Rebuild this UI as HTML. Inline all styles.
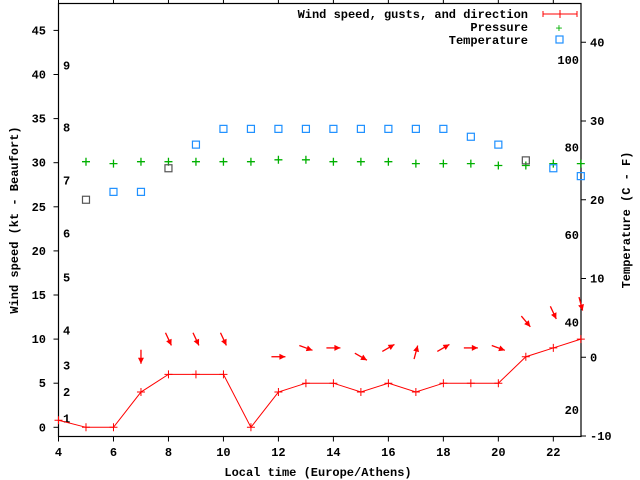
<!DOCTYPE html>
<html><head><meta charset="utf-8"><style>
html,body{margin:0;padding:0;background:#fff;width:640px;height:480px;overflow:hidden}
svg text{font-family:"Liberation Mono",monospace;font-size:12px;fill:#000;font-weight:bold}
</style></head><body>
<svg id="chart" width="640" height="480" xmlns="http://www.w3.org/2000/svg">
<g id="axes"></g>
<g id="marks"></g>
<text transform="translate(18,220) rotate(-90)" text-anchor="middle">Wind speed (kt - Beaufort)</text>
<text transform="translate(630,220) rotate(-90)" text-anchor="middle">Temperature (C - F)</text>
<text x="318" y="476" text-anchor="middle">Local time (Europe/Athens)</text>
<g>
<text x="528" y="18" text-anchor="end">Wind speed, gusts, and direction</text>
<line x1="543" y1="14" x2="577" y2="14" stroke="red" stroke-width="1"/><line x1="560" y1="10" x2="560" y2="18" stroke="red"/><line x1="543" y1="11" x2="543" y2="17" stroke="red"/><line x1="577" y1="11" x2="577" y2="17" stroke="red"/>
<text x="528" y="31" text-anchor="end">Pressure</text>
<text x="559" y="32" text-anchor="middle" style="fill:#00b000;font-weight:normal">+</text>
<text x="528" y="44" text-anchor="end">Temperature</text>
<rect x="556" y="36" width="7" height="7" fill="none" stroke="#1e90ff" stroke-width="1.2"/>
</g>
</svg>
<script>
const hours=[4,5,6,7,8,9,10,11,12,13,14,15,16,17,18,19,20,21,22,23];
const windKt=[0.8,0,0,4,6,6,6,0,4,5,5,4,5,4,5,5,5,8,9,10];
const arrowHours=[7,8,9,10,12,13,14,15,16,17,18,19,20,21,22,23];
const windFromDeg=[0,335,335,335,270,290,270,300,240,195,240,270,290,320,335,345];
const arrowKt=[8,10,10,10,8,9,9,8,9,8.5,9,9,9,12,13,14];
const tempHours=[5,6,7,8,9,10,11,12,13,14,15,16,17,18,19,20,21,22,23];
const tempC=[20,21,21,24,27,29,29,29,29,29,29,29,29,29,28,27,25,24,23];
const pressHours=[5,6,7,8,9,10,11,12,13,14,15,16,17,18,19,20,21,22,23];
const pressureHpa=[1013,1012,1013,1013,1013,1013,1013,1014,1014,1013,1013,1013,1012,1012,1012,1011,1011,1012,1012];
const xTicks=[4,6,8,10,12,14,16,18,20,22];
const yTicks=[0,5,10,15,20,25,30,35,40,45];
const y2Ticks=[-10,0,10,20,30,40];
const fTicks=[20,40,60,80,100];
const bftLabels=[1,2,3,4,5,6,7,8,9];
const bftKt=[1,4,7,11,17,22,28,34,41];

const NS="http://www.w3.org/2000/svg";
const L=58.5,R=581,T=3.5,B=436.5;
const X=h=>L+(h-4)*27.49;
const Y=k=>427.3-k*8.82;
const YT=c=>436-(c+10)*7.875;
const YP=p=>161.7-(p-1013)*1.9;
function mk(tag,attrs,parent){const e=document.createElementNS(NS,tag);for(const k in attrs)e.setAttribute(k,attrs[k]);parent.appendChild(e);return e;}
const ax=document.getElementById('axes'),mg=document.getElementById('marks');
let f=mk('rect',{x:L,y:T,width:R-L,height:B-T,fill:'none',stroke:'#000','stroke-width':1.2},ax);


xTicks.forEach(h=>{const x=X(h);
 mk('line',{x1:x,y1:B,x2:x,y2:B+5,stroke:'#000'},ax);
 mk('line',{x1:x,y1:T,x2:x,y2:T-5,stroke:'#000'},ax);
 const t=mk('text',{x:x,y:456,'text-anchor':'middle'},ax);t.textContent=h;
 
 });
yTicks.forEach(v=>{const y=Y(v);
 mk('line',{x1:L-5,y1:y,x2:L,y2:y,stroke:'#000'},ax);
 const t=mk('text',{x:46,y:y+4,'text-anchor':'end'},ax);t.textContent=v;
 
 });
y2Ticks.forEach(v=>{const y=YT(v);
 mk('line',{x1:R,y1:y,x2:R+5,y2:y,stroke:'#000'},ax);
 const t=mk('text',{x:590,y:y+4,'text-anchor':'start'},ax);t.textContent=v;
 
 });
fTicks.forEach(v=>{const y=YT((v-32)*5/9);
 const t=mk('text',{x:579,y:y+4,'text-anchor':'end'},ax);t.textContent=v;
 
 });
bftLabels.forEach((b,i)=>{const y=Y(bftKt[i]);
 const t=mk('text',{x:63,y:y+4,'text-anchor':'start'},ax);t.textContent=b;
 
 });
// wind line
let pts=hours.map((h,i)=>X(h)+','+Y(windKt[i])).join(' ');
let pl=mk('polyline',{points:pts,fill:'none',stroke:'red','stroke-width':1},mg);


hours.forEach((h,i)=>{const x=X(h),y=Y(windKt[i]);
 const g=mk('path',{d:`M${x-4},${y}H${x+4}M${x},${y-4}V${y+4}`,stroke:'red','stroke-width':1},mg);
 
 });
// arrows
arrowHours.forEach((h,i)=>{const cx=X(h),cy=Y(arrowKt[i]);const a=(windFromDeg[i]+180)*Math.PI/180;
 const dx=Math.sin(a),dy=-Math.cos(a),len=14;
 const x1=cx-dx*len/2,y1=cy-dy*len/2,x2=cx+dx*len/2,y2=cy+dy*len/2;
 const g=mk('g',{},mg);
 
 
 mk('line',{x1,y1,x2,y2,stroke:'red','stroke-width':1.3},g);
 const px=-dy,py=dx,hl=6,hw=3;
 mk('polygon',{points:`${x2},${y2} ${x2-dx*hl+px*hw},${y2-dy*hl+py*hw} ${x2-dx*hl-px*hw},${y2-dy*hl-py*hw}`,fill:'red'},g);});
// pressure
pressHours.forEach((h,i)=>{const x=X(h),y=YP(pressureHpa[i]);
 const g=mk('path',{d:`M${x-4},${y}H${x+4}M${x},${y-4}V${y+4}`,stroke:'#00b000','stroke-width':1.3},mg);
 
 });
// temperature
const grayH=[5,8,21];
tempHours.forEach((h,i)=>{const x=X(h),y=YT(tempC[i]);
 const r=mk('rect',{x:x-3.5,y:y-3.5,width:7,height:7,fill:'none',stroke:grayH.includes(h)?'#555':'#1e90ff','stroke-width':1.2},mg);
 
 });
</script>
</body></html>
